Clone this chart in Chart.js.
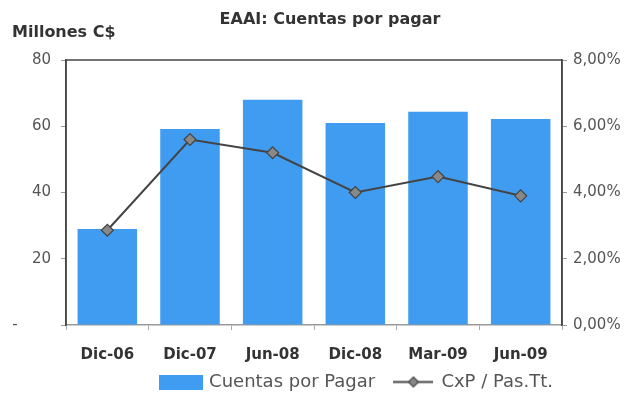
<!DOCTYPE html>
<html>
<head>
<meta charset="utf-8">
<script src="https://cdn.jsdelivr.net/npm/chart.js@4"></script>
<style>
  html, body { margin: 0; padding: 0; background: #fff; }
  #wrap { width: 629px; height: 401px; position: relative; }
</style>
</head>
<body>
<div id="wrap"><canvas id="cxpChart"></canvas></div>
<script>
// datos
const categorias = ['Dic-06', 'Dic-07', 'Jun-08', 'Dic-08', 'Mar-09', 'Jun-09'];
const cuentasPorPagar = [29, 59.2, 68, 61, 64.4, 62.2];   // millones C$
const cxpPasivos = [2.86, 5.6, 5.2, 4.0, 4.48, 3.9];      // %
const ticksIzq = [0, 20, 40, 60, 80];
const ticksDer = [0, 2, 4, 6, 8];

const FONT = '"DejaVu Sans", sans-serif';
const AZUL = '#3f9cf0';

// iconos de la leyenda
function iconoBarra() {
    const c = document.createElement('canvas');
    c.width = 44; c.height = 15;
    const g = c.getContext('2d');
    g.fillStyle = AZUL;
    g.fillRect(0, 0, 44, 15);
    return c;
}
function iconoLinea() {
    const c = document.createElement('canvas');
    c.width = 40; c.height = 15;
    const g = c.getContext('2d');
    g.strokeStyle = '#444';
    g.lineWidth = 2;
    g.beginPath(); g.moveTo(0, 7.5); g.lineTo(40, 7.5); g.stroke();
    g.fillStyle = '#888';
    g.lineWidth = 1.2;
    g.beginPath();
    g.moveTo(20, 2.5); g.lineTo(25, 7.5); g.lineTo(20, 12.5); g.lineTo(15, 7.5); g.closePath();
    g.fill(); g.stroke();
    return c;
}

// marco, textos extra y ajuste de la leyenda
const marco = {
    id: 'marco',
    afterLayout(chart) {
        // la leyenda del original esta corrida a la derecha
        chart.legend.left += 43;
        chart.legend.right += 43;
    },
    afterDatasetsDraw(chart) {
        const { ctx, chartArea: a } = chart;
        ctx.save();
        ctx.strokeStyle = '#444';
        ctx.lineWidth = 1.5;
        ctx.beginPath();
        ctx.moveTo(a.left, a.bottom);
        ctx.lineTo(a.left, a.top);
        ctx.lineTo(a.right, a.top);
        ctx.lineTo(a.right, a.bottom);
        ctx.stroke();
        ctx.restore();
    },
    afterDraw(chart) {
        const ctx = chart.ctx;
        ctx.save();
        ctx.fillStyle = '#333';
        ctx.font = 'bold 16px ' + FONT;
        ctx.textBaseline = 'middle';
        ctx.textAlign = 'center';
        ctx.fillText('EAAI: Cuentas por pagar', 330, 20);
        ctx.textAlign = 'left';
        ctx.fillText('Millones C$', 12, 33);
        ctx.restore();
    }
};

const ctx = document.getElementById('cxpChart').getContext('2d');
new Chart(ctx, {
    data: {
        labels: categorias,
        datasets: [{
            type: 'line',
            label: 'CxP / Pas.Tt.',
            data: cxpPasivos,
            yAxisID: 'y1',
            borderColor: '#444',
            borderWidth: 2,
            pointStyle: 'rectRot',
            pointRadius: 6,
            pointBackgroundColor: '#888',
            pointBorderColor: '#444',
            pointBorderWidth: 1.2,
            tension: 0,
            order: 0
        }, {
            type: 'bar',
            label: 'Cuentas por Pagar',
            data: cuentasPorPagar,
            yAxisID: 'y',
            backgroundColor: AZUL,
            categoryPercentage: 1,
            barPercentage: 0.72,
            order: 1
        }]
    },
    options: {
        responsive: true,
        maintainAspectRatio: false,
        animation: false,
        layout: { padding: { top: 60, left: 0, right: 0, bottom: 0 } },
        plugins: {
            legend: {
                position: 'bottom',
                reverse: true,
                labels: {
                    usePointStyle: true,
                    pointStyleWidth: 38,
                    boxHeight: 15,
                    font: { family: FONT, size: 18 },
                    color: '#555',
                    padding: 2,
                    generateLabels(chart) {
                        const items = Chart.defaults.plugins.legend.labels.generateLabels(chart);
                        items.forEach(it => {
                            if (it.datasetIndex === 1) {
                                it.pointStyle = iconoBarra();
                                it.text = it.text + '   ';
                            } else {
                                it.pointStyle = iconoLinea();
                            }
                        });
                        return items;
                    }
                }
            },
            tooltip: { enabled: false }
        },
        scales: {
            x: {
                offset: true,
                grid: { display: true, offset: true, drawOnChartArea: false, drawTicks: true, tickLength: 5, color: '#aaa' },
                border: { display: true, color: '#999', width: 1.5 },
                ticks: { font: { family: FONT, size: 15, weight: 'bold' }, color: '#333', padding: 16 },
                afterFit(scale) { scale.height = 46; }
            },
            y: {
                position: 'left',
                min: 0, max: 80,
                afterBuildTicks(scale) { scale.ticks = ticksIzq.map(v => ({ value: v })); },
                grid: { drawOnChartArea: false, drawTicks: true, tickLength: 5, color: '#999' },
                border: { display: true, color: '#444', width: 1.5 },
                ticks: {
                    font: { family: FONT, size: 15 }, color: '#555', padding: 10,
                    callback: v => v === 0 ? '-       ' : v
                },
                afterFit(scale) { scale.width = 66; }
            },
            y1: {
                position: 'right',
                min: 0, max: 8,
                afterBuildTicks(scale) { scale.ticks = ticksDer.map(v => ({ value: v })); },
                grid: { drawOnChartArea: false, drawTicks: true, tickLength: 5, color: '#999' },
                border: { display: true, color: '#444', width: 1.5 },
                ticks: {
                    font: { family: FONT, size: 15 }, color: '#555', padding: 6,
                    callback: v => v.toFixed(2).replace('.', ',') + '%'
                },
                afterFit(scale) { scale.width = 67; }
            }
        }
    },
    plugins: [marco]
});
</script>
</body>
</html>
